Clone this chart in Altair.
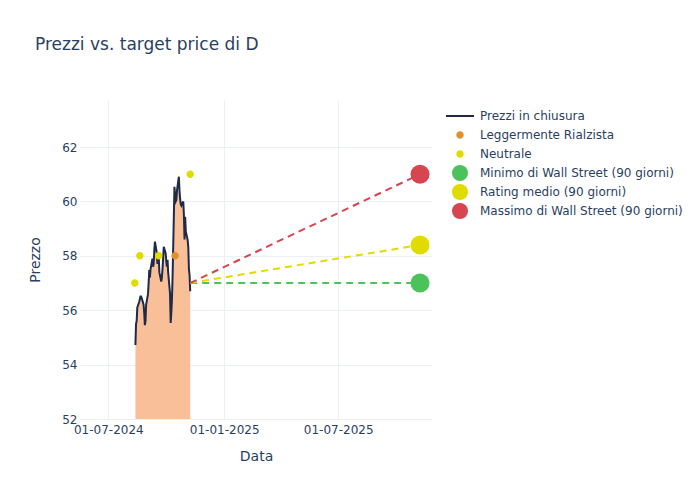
import altair as alt
import pandas as pd

# ---- data ----
price_dates = list(pd.bdate_range("2024-08-13", "2024-11-08").strftime("%Y-%m-%d"))
price_values = [
    54.72, 55.5, 55.6, 56.1,            # Aug 13-16
    56.3, 56.4, 56.5, 56.5, 56.45,      # Aug 19-23
    56.2, 55.9, 55.45, 55.6, 56.2,      # Aug 26-30
    56.6, 57.0, 57.48, 57.2, 57.5,      # Sep 2-6
    57.9, 57.6, 57.7, 58.2, 58.52,      # Sep 9-13
    58.1, 57.7, 57.9, 58.0, 57.4,       # Sep 16-20
    57.05, 57.2, 57.5, 57.9, 58.33,     # Sep 23-27
    58.1, 57.8, 57.6, 57.85, 57.4,      # Sep 30-Oct 4
    56.6, 55.53, 55.9, 56.4, 57.2,      # Oct 7-11
    60.54, 60.2, 60.0, 60.05, 60.4,     # Oct 14-18
    60.91, 60.4, 60.1, 59.9, 59.85,     # Oct 21-25
    60.0, 59.5, 58.6, 59.44, 58.9,      # Oct 28-Nov 1
    58.58, 58.3, 57.5, 57.3, 56.7,      # Nov 4-8
]
assert len(price_dates) == len(price_values)

rating_dates = ["2024-08-12", "2024-08-20", "2024-09-19", "2024-10-15", "2024-11-08"]
rating_values = [57.0, 58.0, 58.0, 58.0, 61.0]
rating_labels = ["Neutrale", "Neutrale", "Neutrale", "Leggermente Rialzista", "Neutrale"]

target_start_date = "2024-11-08"
target_start_value = 57.0
target_date = "2025-11-08"
target_names = ["Minimo di Wall Street (90 giorni)", "Rating medio (90 giorni)", "Massimo di Wall Street (90 giorni)"]
target_values = [57.0, 58.4, 61.0]

series_names = ["Prezzi in chiusura", "Leggermente Rialzista", "Neutrale"] + target_names
series_colors = ["#1f2a48", "#e0912c", "#e0dc00", "#4cc35a", "#e0dc00", "#d64550"]
target_colors = ["#4cc35a", "#e0dc00", "#d64550"]

# ---- frames ----
price_df = pd.DataFrame({"Data": price_dates, "Prezzo": price_values})
rating_df = pd.DataFrame({"Data": rating_dates, "Prezzo": rating_values, "serie": rating_labels})
target_df = pd.DataFrame({"Data": [target_date] * 3, "Prezzo": target_values, "serie": target_names})
dash_rows = []
for n, v in zip(target_names, target_values):
    dash_rows.append({"Data": target_start_date, "Prezzo": target_start_value, "serie": n})
    dash_rows.append({"Data": target_date, "Prezzo": v, "serie": n})
dash_df = pd.DataFrame(dash_rows)

FONT = "DejaVu Sans"
TXT = "#2a3f5f"
GRID = "#ebf0f8"

xscale = alt.Scale(domain=[alt.DateTime(year=2024, month=5, date=17),
                           alt.DateTime(year=2025, month=11, date=27)])
yscale = alt.Scale(domain=[52, 63.73], zero=False, nice=False)

xaxis = alt.Axis(
    values=[alt.DateTime(year=2024, month=7, date=1),
            alt.DateTime(year=2025, month=1, date=1),
            alt.DateTime(year=2025, month=7, date=1)],
    format="%d-%m-%Y", labelFont=FONT, labelFontSize=12, labelColor=TXT,
    ticks=False, domain=False, grid=True, gridColor=GRID, labelPadding=5,
    title="Data", titleFont=FONT, titleFontSize=14, titleColor=TXT, titleFontWeight="normal",
    titleX=176, titleY=37, titleBaseline="middle", titleAlign="center",
)
yaxis = alt.Axis(
    values=[52, 54, 56, 58, 60, 62], labelFont=FONT, labelFontSize=12, labelColor=TXT,
    ticks=False, domain=False, grid=True, gridColor=GRID, labelPadding=3,
    title="Prezzo", titleFont=FONT, titleFontSize=14, titleColor=TXT, titleFontWeight="normal",
    titleX=-45, titleY=159.5, titleAngle=-90, titleBaseline="middle", titleAlign="center",
)

x_enc = alt.X("Data:T", scale=xscale, axis=xaxis)
y_enc = alt.Y("Prezzo:Q", scale=yscale, axis=yaxis)

area = alt.Chart(price_df).mark_area(color="#f9bf99", opacity=1, clip=True).encode(x=x_enc, y=y_enc)
line = alt.Chart(price_df).mark_line(color="#1f2a48", strokeWidth=2, clip=True).encode(x=x_enc, y=y_enc)
dashes = alt.Chart(dash_df).mark_line(strokeDash=[7, 5], strokeWidth=2, clip=True).encode(
    x=x_enc, y=y_enc,
    stroke=alt.Stroke("serie:N", scale=alt.Scale(domain=target_names, range=target_colors), legend=None),
    detail="serie:N",
)
targets = alt.Chart(target_df).mark_circle(size=360, opacity=1).encode(
    x=x_enc, y=y_enc,
    fill=alt.Fill("serie:N", scale=alt.Scale(domain=target_names, range=target_colors), legend=None),
)

# legend symbols: invisible zero-length subpaths give each entry the same 16px height
line_path = "M-1,-0.07L1,-0.07L1,0.07L-1,0.07Z M0,-0.57L0,-0.57 M0,0.57L0,0.57"
small_circle = "M-1,0A1,1,0,1,0,1,0A1,1,0,1,0,-1,0Z M0,-2.15L0,-2.15 M0,2.15L0,2.15"
legend = alt.Legend(
    title=None, orient="none", legendX=366, legendY=2, padding=0,
    labelFont=FONT, labelFontSize=12, labelColor=TXT, labelOffset=6, labelLimit=400,
    symbolStrokeWidth=0, rowPadding=3,
)
points = alt.Chart(rating_df).mark_point(filled=True, opacity=1).encode(
    x=x_enc, y=y_enc,
    color=alt.Color("serie:N", scale=alt.Scale(domain=series_names, range=series_colors), legend=legend),
    shape=alt.Shape("serie:N", scale=alt.Scale(domain=series_names,
                    range=[line_path, small_circle, small_circle, "circle", "circle", "circle"]), legend=legend),
    size=alt.Size("serie:N", scale=alt.Scale(type="ordinal", domain=series_names,
                  range=[784, 55, 55, 256, 256, 256]), legend=legend),
)

chart = alt.layer(area, line, dashes, targets, points).properties(
    width=352, height=319,
    autosize=alt.AutoSizeParams(type="none"),
    padding={"left": 80, "top": 100, "right": 268, "bottom": 81},
    title=alt.TitleParams("Prezzi vs. target price di D", anchor="start", frame="group", dx=-45,
                          offset=33, baseline="alphabetic", font=FONT, fontSize=17,
                          fontWeight="normal", color=TXT),
).configure(background="white").configure_view(stroke=None)

chart.save("out.html", embed_options={"renderer": "svg", "actions": False})
